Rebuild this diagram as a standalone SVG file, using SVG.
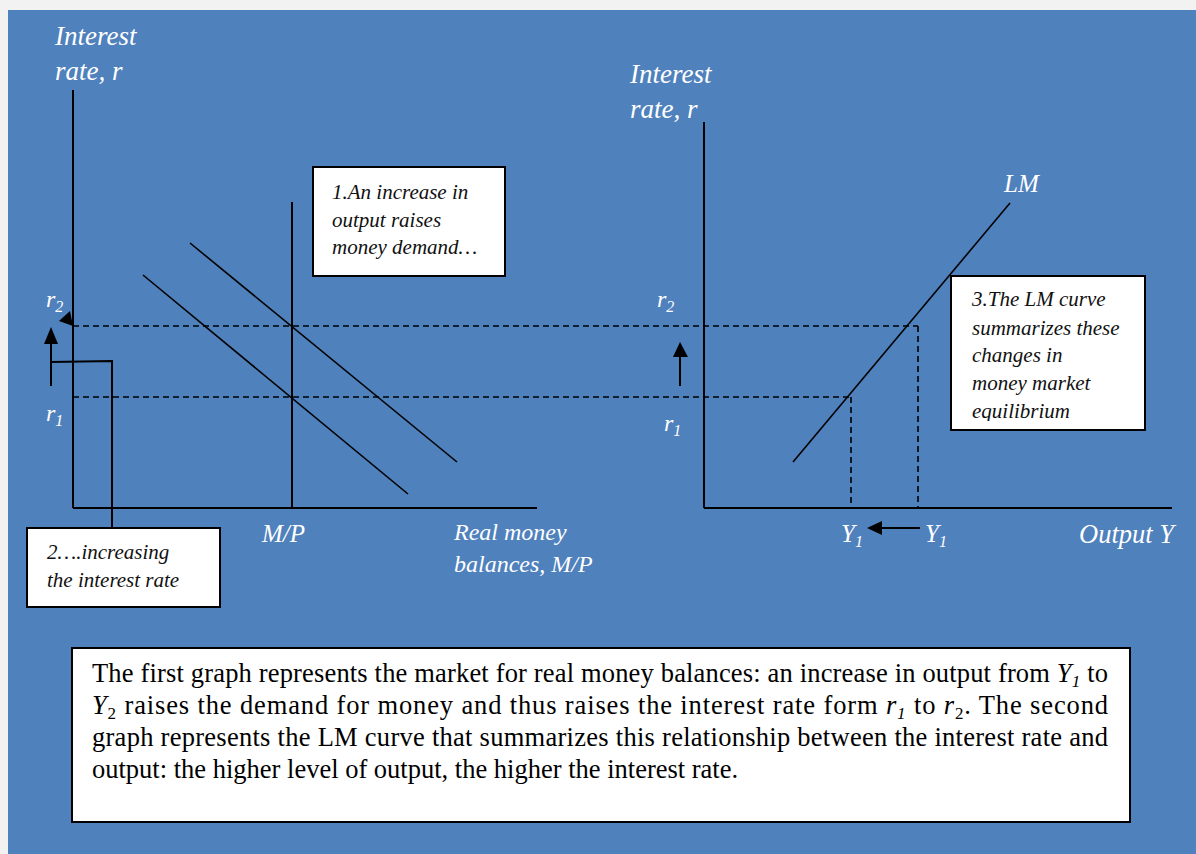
<svg xmlns="http://www.w3.org/2000/svg" width="1196" height="854" viewBox="0 0 1196 854">
<style>
.lab{font-family:"Liberation Serif",serif;font-style:italic;fill:#ffffff}
.box{fill:#ffffff;stroke:#000000;stroke-width:2}
.bt{font-family:"Liberation Serif",serif;font-style:italic;fill:#111111;font-size:21px}
.ax{stroke:#000000;stroke-width:2;fill:none}
.ln{stroke:#000000;stroke-width:1.6;fill:none}
.dash{stroke:#000000;stroke-width:1.6;stroke-dasharray:6 4;fill:none}
.main{font-family:"Liberation Serif",serif;fill:#000000;font-size:26.5px}
</style>
<defs>
<clipPath id="c3"><rect x="951" y="276" width="194" height="145"/></clipPath>
</defs>
<rect x="0" y="0" width="1196" height="854" fill="#f2f2f2"/>
<rect x="8" y="10" width="1188" height="844" fill="#4f81bd"/>

<g id="connectors">
<line class="ax" x1="73" y1="90" x2="73" y2="508"/>
<line class="ax" x1="73" y1="508" x2="537" y2="508"/>
<line class="ax" x1="292" y1="202" x2="292" y2="508"/>
<line class="ln" x1="143" y1="275" x2="408" y2="494"/>
<line class="ln" x1="190" y1="243" x2="457" y2="462"/>
<line class="dash" x1="73" y1="326" x2="918" y2="326"/>
<line class="dash" x1="73" y1="397" x2="851" y2="397"/>
<line class="ax" x1="704" y1="122" x2="704" y2="508"/>
<line class="ax" x1="704" y1="508" x2="1172" y2="508"/>
<line class="ln" x1="793" y1="462" x2="1010" y2="203"/>
<line class="dash" x1="851" y1="397" x2="851" y2="508"/>
<line class="dash" x1="918" y1="326" x2="918" y2="508"/>
<polygon points="59,321 70,311 73,326" fill="#000"/>
<line class="ax" x1="51" y1="386" x2="51" y2="342"/>
<polygon points="44,344 58,344 51,327" fill="#000"/>
<polyline class="ax" points="51,362 112,361 112,528"/>
<line class="ax" x1="680" y1="386" x2="680" y2="356"/>
<polygon points="673,357 688,357 680,342" fill="#000"/>
<line class="ax" x1="920" y1="528" x2="880" y2="528"/>
<polygon points="867,528 882,521 882,535" fill="#000"/>
</g>

<g id="labels">
<text class="lab" x="55" y="45" font-size="27">Interest</text>
<text class="lab" x="55" y="80" font-size="27">rate, r</text>
<text class="lab" x="630" y="83" font-size="27">Interest</text>
<text class="lab" x="630" y="118" font-size="27">rate, r</text>
<text class="lab" x="46" y="307" font-size="24">r<tspan font-size="16" dy="5">2</tspan></text>
<text class="lab" x="46" y="421" font-size="24">r<tspan font-size="16" dy="5">1</tspan></text>
<text class="lab" x="657" y="307" font-size="24">r<tspan font-size="16" dy="5">2</tspan></text>
<text class="lab" x="664" y="431" font-size="24">r<tspan font-size="16" dy="5">1</tspan></text>
<text class="lab" x="262" y="542" font-size="25">M/P</text>
<text class="lab" x="454" y="540" font-size="24">Real money</text>
<text class="lab" x="454" y="572" font-size="24">balances, M/P</text>
<text class="lab" x="1004" y="192" font-size="25">LM</text>
<text class="lab" x="841" y="542" font-size="25">Y<tspan font-size="16" dy="5">1</tspan></text>
<text class="lab" x="925" y="542" font-size="25">Y<tspan font-size="16" dy="5">1</tspan></text>
<text class="lab" x="1079" y="543" font-size="26.5">Output Y</text>
</g>

<g id="box1">
<rect class="box" x="313" y="167" width="192" height="109"/>
<text class="bt" x="332" y="199">1.An increase in</text>
<text class="bt" x="332" y="227">output raises</text>
<text class="bt" x="332" y="254">money demand…</text>
</g>

<g id="box2">
<rect class="box" x="27" y="528" width="193" height="79"/>
<text class="bt" x="47" y="559" font-size="20.5">2….increasing</text>
<text class="bt" x="47" y="587" font-size="20.5">the interest rate</text>
</g>

<g id="box3">
<rect class="box" x="951" y="276" width="194" height="154"/>
<g clip-path="url(#c3)">
<text class="bt" x="972" y="306" font-size="20.3">3.The LM curve</text>
<text class="bt" x="972" y="335" font-size="20.3">summarizes these</text>
<text class="bt" x="972" y="362" font-size="20.3">changes in</text>
<text class="bt" x="972" y="390" font-size="20.3">money market</text>
<text class="bt" x="972" y="418" font-size="20.3">equilibrium</text>
</g>
</g>

<g id="caption">
<rect class="box" x="72" y="648" width="1058" height="174"/>
<text class="main" x="92" y="682" textLength="1016" lengthAdjust="spacing">The first graph represents the market for real money balances: an increase in output from <tspan font-style="italic">Y</tspan><tspan font-style="italic" font-size="17" dy="5">1</tspan><tspan dy="-5">  to</tspan></text>
<text class="main" x="92" y="714" textLength="1016" lengthAdjust="spacing"><tspan font-style="italic">Y</tspan><tspan font-size="17" dy="5">2</tspan><tspan dy="-5">  raises the demand for money and thus raises the interest rate form </tspan><tspan font-style="italic">r</tspan><tspan font-style="italic" font-size="17" dy="5">1</tspan><tspan dy="-5"> to </tspan><tspan font-style="italic">r</tspan><tspan font-size="17" dy="5">2</tspan><tspan dy="-5">. The second</tspan></text>
<text class="main" x="92" y="746" textLength="1016" lengthAdjust="spacing">graph represents the LM curve that summarizes this relationship between the interest rate and</text>
<text class="main" x="92" y="778">output: the higher level of output, the higher the interest rate.</text>
</g>
</svg>
